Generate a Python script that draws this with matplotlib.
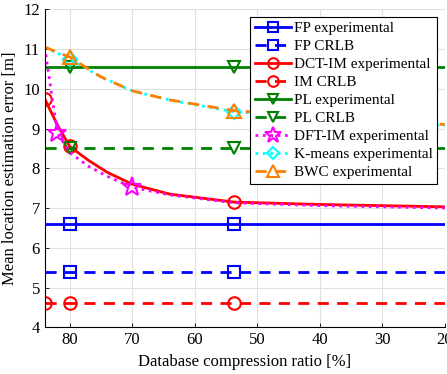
import numpy as np
import matplotlib.pyplot as plt
import matplotlib as mpl

mpl.rcParams['font.family'] = 'serif'
mpl.rcParams['font.serif'] = ['Liberation Serif']
mpl.rcParams['mathtext.fontset'] = 'stix'
mpl.rcParams['font.size'] = 12

# compression ratio [%]
ratio_dct = [84, 82, 80, 77, 74, 70, 64, 53.7, 40, 30, 20]
dct_im = [9.75, 9.1, 8.55, 8.2, 7.9, 7.6, 7.35, 7.15, 7.09, 7.06, 7.03]
dft_im = [11.05, 8.9, 8.4, 8.05, 7.8, 7.52, 7.33, 7.13, 7.06, 7.03, 7.0]
ratio_km = [84, 80, 75, 70, 64, 53.7, 40, 30, 20]
kmeans = [11.05, 10.75, 10.3, 9.95, 9.72, 9.42, 9.28, 9.18, 9.08]
bwc = [11.05, 10.8, 10.3, 9.95, 9.72, 9.45, 9.3, 9.2, 9.1]

ratio_const = [84, 80, 53.7, 20]
fp_exp = [6.6] * 4
fp_crlb = [5.4] * 4
im_crlb = [4.6] * 4
pl_exp = [10.55] * 4
pl_crlb = [8.5] * 4

fig, ax = plt.subplots(figsize=(4.47, 3.74), dpi=100)
lw = 2.0
ms = 8
ax.plot(ratio_const, fp_exp, '-', color='#0000ff', lw=lw, marker='s', ms=ms, mfc='none', mew=1.5,
        markevery=[1, 2], label='FP experimental')
ax.plot(ratio_const, fp_crlb, '--', color='#0000ff', lw=lw, marker='s', ms=ms, mfc='none', mew=1.5,
        markevery=[1, 2], dashes=(4, 3), label='FP CRLB')
ax.plot(ratio_dct, dct_im, '-', color='#ff0000', lw=lw, marker='o', ms=ms + 1, mfc='none', mew=1.5,
        markevery=[0, 2, 7], label='DCT-IM experimental')
ax.plot(ratio_const, im_crlb, '--', color='#ff0000', lw=lw, marker='o', ms=ms + 1, mfc='none', mew=1.5,
        markevery=[0, 1, 2], dashes=(4, 3), label='IM CRLB')
ax.plot(ratio_const, pl_exp, '-', color='#008000', lw=lw, marker='v', ms=ms + 1, mfc='none', mew=1.5,
        markevery=[1, 2], label='PL experimental')
ax.plot(ratio_const, pl_crlb, '--', color='#008000', lw=lw, marker='v', ms=ms + 1, mfc='none', mew=1.5,
        markevery=[1, 2], dashes=(4, 3), label='PL CRLB')
ax.plot(ratio_dct, dft_im, ':', color='#ff00ff', lw=lw, marker='*', ms=ms + 6, mfc='none', mew=1.5,
        markevery=[1, 5], label='DFT-IM experimental')
ax.plot(ratio_km, kmeans, ':', color='#00ffff', lw=lw, marker='D', ms=ms - 1, mfc='none', mew=1.5,
        markevery=[1, 5], label='K-means experimental')
ax.plot(ratio_km, bwc, '--', color='#ff8000', lw=lw, marker='^', ms=ms + 2, mfc='none', mew=1.5,
        markevery=[1, 5], dashes=(4, 3), label='BWC experimental')

ax.set_xlim(84, 20)
ax.set_ylim(4, 12)
ax.set_xticks([80, 70, 60, 50, 40, 30, 20])
ax.set_yticks([4, 5, 6, 7, 8, 9, 10, 11, 12])
ax.grid(True, color='#e0e0e0', lw=0.8)
ax.set_axisbelow(True)
for s in ['top', 'right']:
    ax.spines[s].set_visible(False)
ax.tick_params(direction='in', length=3, width=0.6)
ax.set_xlabel('Database compression ratio [%]')
ax.set_ylabel('Mean location estimation error [m]')

leg = ax.legend(loc='upper right', fontsize=11, frameon=True, fancybox=False, edgecolor='k',
                handlelength=2.4, labelspacing=0.28, borderpad=0.3, handletextpad=0.15,
                borderaxespad=0.5, framealpha=1, markerscale=0.85)
leg.get_frame().set_linewidth(0.8)

fig.subplots_adjust(left=0.10, right=0.995, bottom=0.125, top=0.975)
fig.savefig('out.png', dpi=100)
